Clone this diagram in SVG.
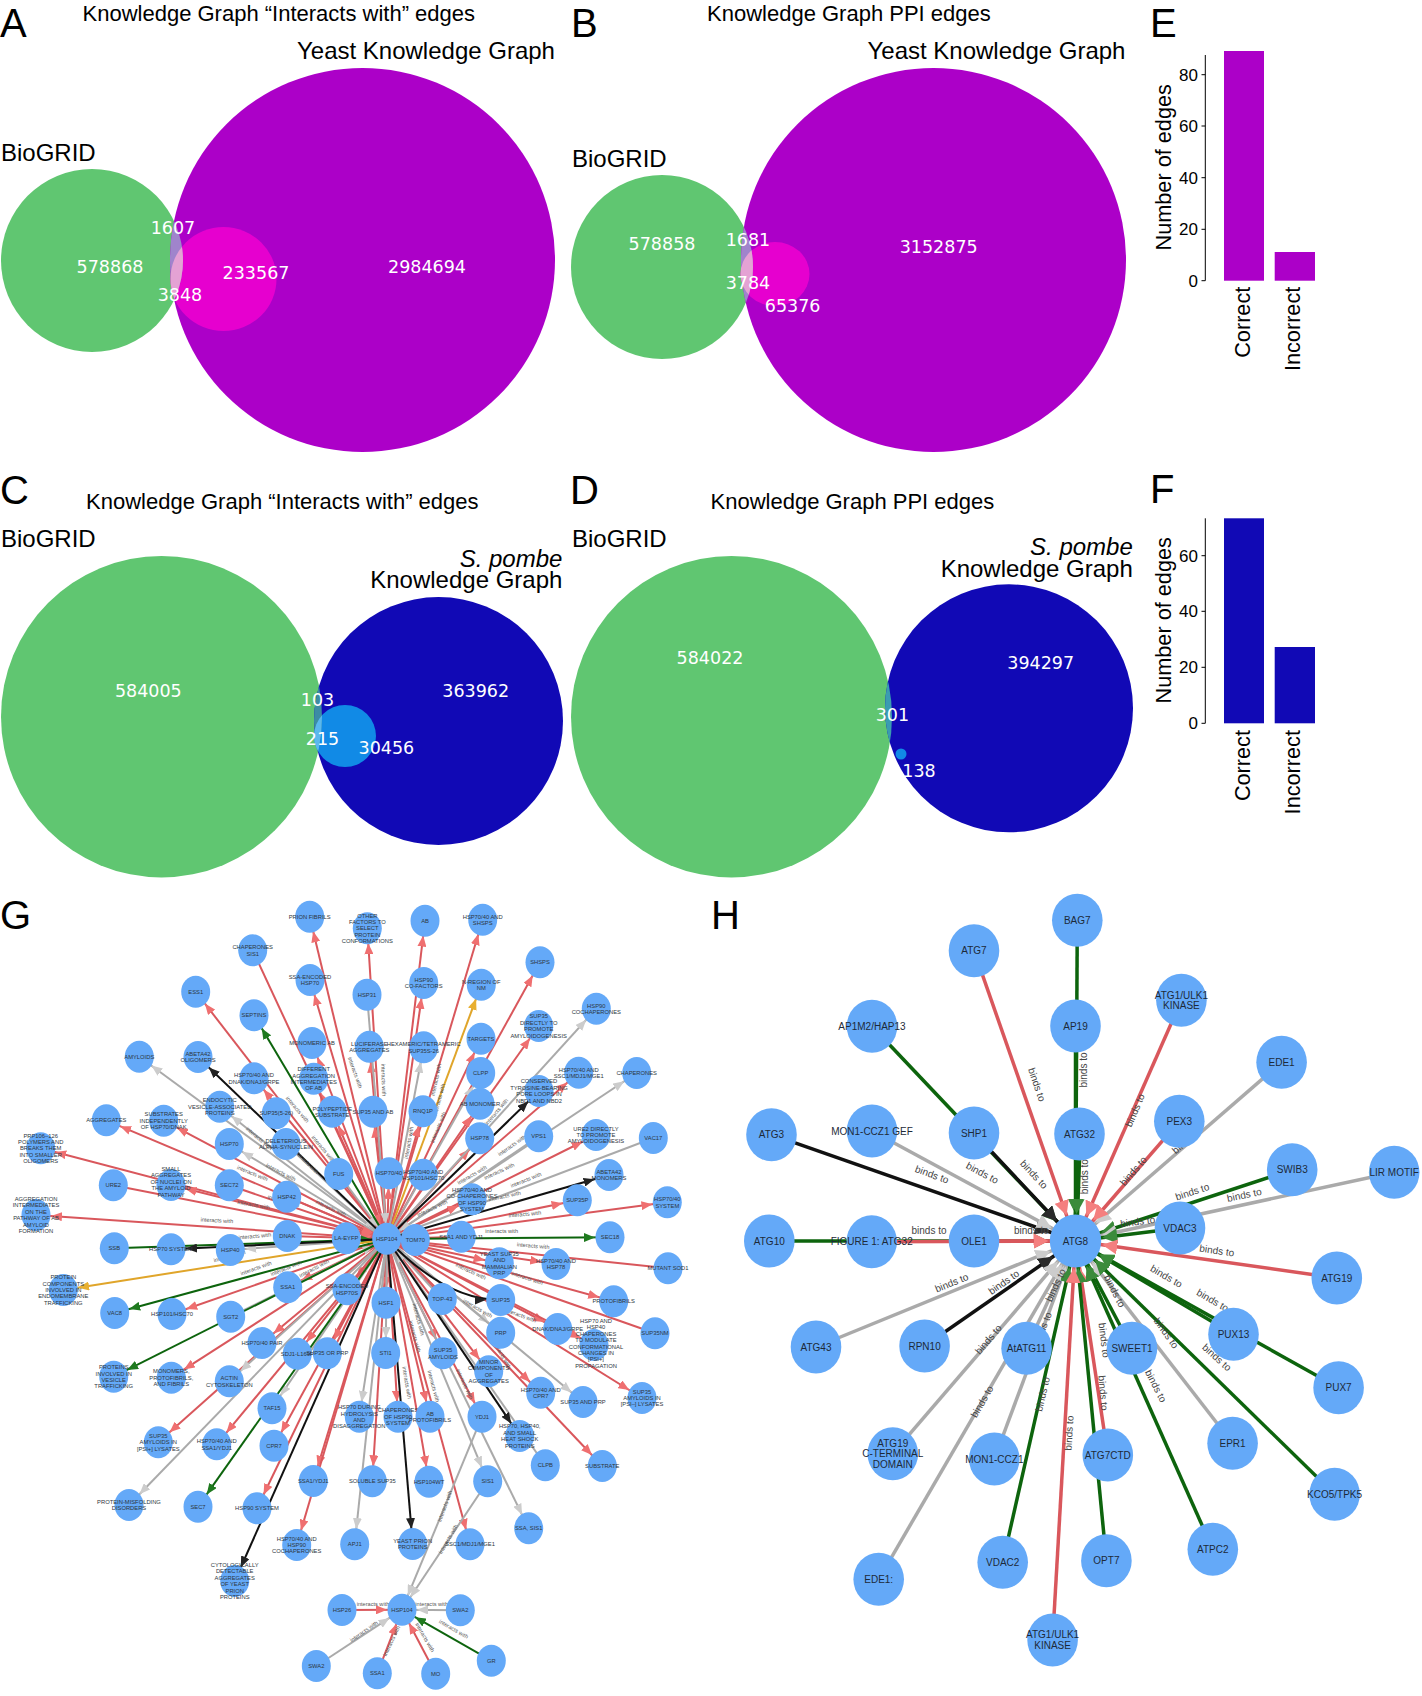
<svg xmlns="http://www.w3.org/2000/svg" width="1422" height="1696" viewBox="0 0 1422 1696">
<style>
text{font-family:"Liberation Sans",Arial,sans-serif}
.L{font-size:40px;fill:#000}
.T{font-size:22px;fill:#000}
.S{font-size:24px;fill:#000}
.N{font-family:"DejaVu Sans",sans-serif;font-size:17.5px;fill:#fff;text-anchor:middle}
.X{font-size:21.7px;fill:#000}
.Y{font-size:17px;fill:#000;text-anchor:end}
.ax{stroke:#000;stroke-width:1;fill:none}
.gn{fill:#64a9f8}
.gt{font-size:5.8px;fill:#2d3640;text-anchor:middle}
.ht{font-size:10px;fill:#1d2a38;text-anchor:middle}
.e{font-size:5.6px;fill:#555;text-anchor:middle}
.b{font-size:10px;fill:#444;text-anchor:middle}
#gedges path{fill:none;stroke-width:2}
#hedges path{fill:none;stroke-width:3.5}
.r{stroke:#d9575c;marker-end:url(#mr)}
.g{stroke:#0d640d;marker-end:url(#mg)}
.k{stroke:#111;marker-end:url(#mk)}
.a{stroke:#aaa;marker-end:url(#ma)}
.y{stroke:#e0a52a;marker-end:url(#my)}
.hr{stroke:#d9575c;marker-end:url(#hr)}
.hg{stroke:#0d640d;marker-end:url(#hg)}
.hk{stroke:#111;marker-end:url(#hk)}
.ha{stroke:#aaa;marker-end:url(#ha)}
</style>
<defs>
<marker id="mr" markerUnits="userSpaceOnUse" markerWidth="11" markerHeight="9" refX="26" refY="4.5" orient="auto"><path d="M0 0L11 4.5L0 9z" fill="#ef6f70"/></marker>
<marker id="mg" markerUnits="userSpaceOnUse" markerWidth="11" markerHeight="9" refX="26" refY="4.5" orient="auto"><path d="M0 0L11 4.5L0 9z" fill="#1f7a1f"/></marker>
<marker id="mk" markerUnits="userSpaceOnUse" markerWidth="11" markerHeight="9" refX="26" refY="4.5" orient="auto"><path d="M0 0L11 4.5L0 9z" fill="#222"/></marker>
<marker id="ma" markerUnits="userSpaceOnUse" markerWidth="11" markerHeight="9" refX="26" refY="4.5" orient="auto"><path d="M0 0L11 4.5L0 9z" fill="#ccc"/></marker>
<marker id="my" markerUnits="userSpaceOnUse" markerWidth="11" markerHeight="9" refX="26" refY="4.5" orient="auto"><path d="M0 0L11 4.5L0 9z" fill="#e8af30"/></marker>
<marker id="hr" markerUnits="userSpaceOnUse" markerWidth="15" markerHeight="15" refX="42" refY="7.5" orient="auto"><path d="M0 0L15 7.5L0 15z" fill="#f47f7f"/></marker>
<marker id="hg" markerUnits="userSpaceOnUse" markerWidth="15" markerHeight="15" refX="42" refY="7.5" orient="auto"><path d="M0 0L15 7.5L0 15z" fill="#3b8b3b"/></marker>
<marker id="hk" markerUnits="userSpaceOnUse" markerWidth="15" markerHeight="15" refX="42" refY="7.5" orient="auto"><path d="M0 0L15 7.5L0 15z" fill="#2a2a2a"/></marker>
<marker id="ha" markerUnits="userSpaceOnUse" markerWidth="15" markerHeight="15" refX="42" refY="7.5" orient="auto"><path d="M0 0L15 7.5L0 15z" fill="#ccc"/></marker>
<clipPath id="cA"><ellipse cx="92" cy="260.5" rx="91" ry="91.5"/></clipPath>
<clipPath id="cB"><ellipse cx="662" cy="267" rx="91" ry="92"/></clipPath>
<clipPath id="cC"><ellipse cx="161.5" cy="716.7" rx="160.5" ry="160.7"/></clipPath>
<clipPath id="cD"><ellipse cx="731.5" cy="716.7" rx="160.5" ry="160.7"/></clipPath>
</defs>
<rect width="1422" height="1696" fill="#fff"/>

<g id="panel-A">
<text class="L" x="0" y="37">A</text>
<text class="T" x="82.5" y="21">Knowledge Graph “Interacts with” edges</text>
<text class="S" x="297" y="59">Yeast Knowledge Graph</text>
<text class="S" x="1" y="160.7">BioGRID</text>
<ellipse cx="92" cy="260.5" rx="91" ry="91.5" fill="#60c671"/>
<ellipse cx="362.5" cy="260" rx="192.5" ry="192" fill="#ac00c8"/>
<ellipse cx="223.5" cy="279" rx="53" ry="52" fill="#e600cf"/>
<ellipse cx="362.5" cy="260" rx="192.5" ry="192" fill="#a084cc" clip-path="url(#cA)"/>
<ellipse cx="223.5" cy="279" rx="53" ry="52" fill="#e4a2d4" clip-path="url(#cA)"/>
<text class="N" x="110" y="272.7">578868</text>
<text class="N" x="173" y="234">1607</text>
<text class="N" x="180" y="300.7">3848</text>
<text class="N" x="256" y="279.3">233567</text>
<text class="N" x="427" y="273.3">2984694</text>
</g>

<g id="panel-B">
<text class="L" x="571" y="37">B</text>
<text class="T" x="707" y="21">Knowledge Graph PPI edges</text>
<text class="S" x="867.5" y="59">Yeast Knowledge Graph</text>
<text class="S" x="572" y="166.7">BioGRID</text>
<ellipse cx="662" cy="267" rx="91" ry="92" fill="#60c671"/>
<ellipse cx="933.5" cy="260" rx="192.5" ry="192" fill="#ac00c8"/>
<ellipse cx="775" cy="274" rx="34.5" ry="32" fill="#e600cf"/>
<ellipse cx="933.5" cy="260" rx="192.5" ry="192" fill="#a084cc" clip-path="url(#cB)"/>
<ellipse cx="775" cy="274" rx="34.5" ry="32" fill="#e4a2d4" clip-path="url(#cB)"/>
<text class="N" x="662" y="250">578858</text>
<text class="N" x="748" y="246">1681</text>
<text class="N" x="748" y="289.3">3784</text>
<text class="N" x="792.6" y="311.7">65376</text>
<text class="N" x="938.7" y="253.3">3152875</text>
</g>

<g id="panel-C">
<text class="L" x="0" y="504">C</text>
<text class="T" x="86" y="509.3">Knowledge Graph “Interacts with” edges</text>
<text class="S" x="1" y="547.3">BioGRID</text>
<text class="S" x="562.4" y="566.7" text-anchor="end" font-style="italic">S. pombe</text>
<text class="S" x="562.4" y="588.3" text-anchor="end">Knowledge Graph</text>
<ellipse cx="161.5" cy="716.7" rx="160.5" ry="160.7" fill="#60c671"/>
<ellipse cx="438.5" cy="721" rx="124.5" ry="124" fill="#1109b5"/>
<ellipse cx="345" cy="736" rx="31" ry="31" fill="#118ae6"/>
<ellipse cx="438.5" cy="721" rx="124.5" ry="124" fill="#3c8ca4" clip-path="url(#cC)"/>
<ellipse cx="345" cy="736" rx="31" ry="31" fill="#5ab8ee" clip-path="url(#cC)"/>
<text class="N" x="148.3" y="696.7">584005</text>
<text class="N" x="317.5" y="706">103</text>
<text class="N" x="322.5" y="745">215</text>
<text class="N" x="386.4" y="754.3">30456</text>
<text class="N" x="475.7" y="696.7">363962</text>
</g>

<g id="panel-D">
<text class="L" x="570" y="504">D</text>
<text class="T" x="710.5" y="509.3">Knowledge Graph PPI edges</text>
<text class="S" x="572" y="547.3">BioGRID</text>
<text class="S" x="1132.8" y="555" text-anchor="end" font-style="italic">S. pombe</text>
<text class="S" x="1132.8" y="576.7" text-anchor="end">Knowledge Graph</text>
<ellipse cx="731.5" cy="716.7" rx="160.5" ry="160.7" fill="#60c671"/>
<ellipse cx="1009" cy="708.3" rx="124" ry="124" fill="#1109b5"/>
<ellipse cx="1009" cy="708.3" rx="124" ry="124" fill="#3a9cb0" clip-path="url(#cD)"/>
<ellipse cx="901" cy="754" rx="5.5" ry="5.5" fill="#118ae6"/>
<text class="N" x="710" y="664">584022</text>
<text class="N" x="1040.7" y="669.3">394297</text>
<text class="N" x="892.4" y="721">301</text>
<text class="N" x="919" y="776.7">138</text>
</g>

<g id="panel-E">
<text class="L" x="1150" y="37">E</text>
<path class="ax" d="M1205.3 55V280.7M1201.5 74.7H1205.3M1201.5 126H1205.3M1201.5 177.7H1205.3M1201.5 229.3H1205.3M1201.5 280.7H1205.3"/>
<text class="Y" x="1198" y="80.7">80</text>
<text class="Y" x="1198" y="132">60</text>
<text class="Y" x="1198" y="183.7">40</text>
<text class="Y" x="1198" y="235.3">20</text>
<text class="Y" x="1198" y="286.7">0</text>
<rect x="1224" y="51" width="40" height="229.7" fill="#ac00c8"/>
<rect x="1274.7" y="252" width="40.3" height="28.7" fill="#ac00c8"/>
<text class="X" text-anchor="middle" transform="translate(1171 167.3) rotate(-90)">Number of edges</text>
<text class="X" text-anchor="end" transform="translate(1249.6 286.7) rotate(-90)">Correct</text>
<text class="X" text-anchor="end" transform="translate(1300.4 286.7) rotate(-90)">Incorrect</text>
</g>

<g id="panel-F">
<text class="L" x="1150" y="503.3">F</text>
<path class="ax" d="M1205.3 518.3V723.3M1201.5 555.7H1205.3M1201.5 611.3H1205.3M1201.5 667.3H1205.3M1201.5 723.3H1205.3"/>
<text class="Y" x="1198" y="561.7">60</text>
<text class="Y" x="1198" y="617.3">40</text>
<text class="Y" x="1198" y="673.3">20</text>
<text class="Y" x="1198" y="729.3">0</text>
<rect x="1224" y="518.3" width="40" height="205" fill="#1109b5"/>
<rect x="1274.7" y="647" width="40.3" height="76.3" fill="#1109b5"/>
<text class="X" text-anchor="middle" transform="translate(1171 620.3) rotate(-90)">Number of edges</text>
<text class="X" text-anchor="end" transform="translate(1249.6 730) rotate(-90)">Correct</text>
<text class="X" text-anchor="end" transform="translate(1300.4 730) rotate(-90)">Incorrect</text>
</g>

<text class="L" x="0" y="929">G</text>
<text class="L" x="711" y="929">H</text>

<g id="gedges">
<path class="r" d="M387 1239L309.7 916.7"/><path class="r" d="M387 1239L367.3 928.3"/><path class="r" d="M387 1239L310 980"/><path class="r" d="M387 1239L195.7 991.7"/><path class="r" d="M387 1239L312 1043"/><path class="r" d="M387 1239L369.3 1046.7"/><path class="r" d="M387 1239L254 1078"/><path class="r" d="M387 1239L313.7 1078.7"/><path class="r" d="M387 1239L332.3 1111.7"/><path class="r" d="M387 1239L373 1111.7"/><path class="r" d="M387 1239L106.3 1120.3"/><path class="r" d="M387 1239L163.7 1120.7"/><path class="r" d="M387 1239L40.7 1148.3"/><path class="r" d="M387 1239L171 1185"/><path class="r" d="M387 1239L36 1215"/><path class="r" d="M387 1239L423.7 983"/><path class="r" d="M387 1239L425 920.7"/><path class="r" d="M387 1239L482.7 919.7"/><path class="r" d="M387 1239L540 962.3"/><path class="r" d="M387 1239L538.7 1026"/><path class="r" d="M387 1239L481 1038.7"/><path class="r" d="M387 1239L480 1103.7"/><path class="r" d="M387 1239L479.7 1138.3"/><path class="r" d="M387 1239L578.7 1072.7"/><path class="r" d="M387 1239L596 1135"/><path class="r" d="M387 1239L667.3 1202.3"/><path class="r" d="M387 1239L577.3 1200.3"/><path class="r" d="M387 1239L472 1199.3"/><path class="r" d="M387 1239L389 1173"/><path class="r" d="M387 1239L423 1111.3"/><path class="r" d="M387 1239L556 1264"/><path class="r" d="M387 1239L499.3 1263.3"/><path class="r" d="M387 1239L613.7 1301.3"/><path class="r" d="M387 1239L557.7 1329"/><path class="r" d="M387 1239L594 1345"/><path class="r" d="M387 1239L642 1398"/><path class="r" d="M387 1239L540.7 1392.7"/><path class="r" d="M387 1239L602.3 1466"/><path class="r" d="M387 1239L488.7 1371.3"/><path class="r" d="M387 1239L482 1416.7"/><path class="r" d="M387 1239L443 1353.3"/><path class="r" d="M387 1239L430 1416.7"/><path class="r" d="M387 1239L470 1544.3"/><path class="r" d="M387 1239L429 1481.7"/><path class="r" d="M387 1239L398 1416.7"/><path class="r" d="M387 1239L372.3 1481.3"/><path class="r" d="M387 1239L313.3 1481"/><path class="r" d="M387 1239L296.7 1545"/><path class="r" d="M387 1239L257 1508.3"/><path class="r" d="M387 1239L274 1445.7"/><path class="r" d="M387 1239L327 1353"/><path class="r" d="M387 1239L347 1289"/><path class="r" d="M387 1239L262 1343"/><path class="r" d="M387 1239L216.7 1444.3"/><path class="r" d="M387 1239L158.3 1442.3"/><path class="r" d="M387 1239L171.3 1377.7"/><path class="r" d="M387 1239L172 1314"/><path class="r" d="M387 1239L287.7 1287"/><path class="r" d="M387 1239L386 1302.7"/><path class="r" d="M387 1239L297.3 1353.7"/>
<path class="r" d="M252.7 950.3L387 1239"/><path class="r" d="M113.3 1185.3L387 1239"/><path class="r" d="M229.3 1185.3L387 1239"/><path class="r" d="M286.7 1196.7L387 1239"/><path class="r" d="M287.3 1236L387 1239"/><path class="r" d="M655 1333.3L387 1239"/><path class="r" d="M668 1268.3L387 1239"/><path class="r" d="M461.3 1236.7L387 1239"/><path class="r" d="M346.3 1238.3L387 1239"/><path class="r" d="M415.3 1240L387 1239"/>
<path class="a" d="M387 1239L139.3 1056.7"/><path class="a" d="M387 1239L219.7 1106.7"/><path class="a" d="M387 1239L229.3 1144"/><path class="a" d="M387 1239L230.3 1250"/><path class="a" d="M387 1239L129 1505"/><path class="a" d="M387 1239L272 1408"/><path class="a" d="M387 1239L229.3 1381"/><path class="a" d="M387 1239L354.7 1544"/><path class="a" d="M387 1239L359.3 1416.7"/><path class="a" d="M387 1239L385.7 1353"/><path class="a" d="M387 1239L423.7 1047"/><path class="a" d="M387 1239L480.7 1073"/><path class="a" d="M387 1239L596.3 1008.7"/><path class="a" d="M387 1239L636.7 1073"/><path class="a" d="M387 1239L500.7 1332.7"/><path class="a" d="M387 1239L583 1402"/><path class="a" d="M387 1239L487.7 1481.3"/><path class="a" d="M387 1239L528.7 1528.3"/>
<path class="a" d="M653.3 1138L387 1239"/><path class="a" d="M538.7 1136.3L387 1239"/><path class="a" d="M230.7 1316.7L387 1239"/><path class="a" d="M545.3 1465.3L387 1239"/><path class="a" d="M367 994.7L387 1239"/><path class="a" d="M338.7 1174L387 1239"/><path class="a" d="M442 1299L387 1239"/><path class="a" d="M286 1144L387 1239"/>
<path class="g" d="M387 1239L254 1015.3"/><path class="g" d="M387 1239L610 1237.3"/><path class="g" d="M387 1239L114.7 1313"/><path class="g" d="M387 1239L113.7 1376.7"/><path class="g" d="M387 1239L198 1506.7"/><path class="g" d="M114.3 1248.3L387 1239"/>
<path class="y" d="M387 1239L481.3 984.7"/><path class="y" d="M387 1239L63.3 1290"/>
<path class="k" d="M387 1239L198 1057"/><path class="k" d="M387 1239L171 1249.3"/><path class="k" d="M387 1239L539 1091"/><path class="k" d="M387 1239L609 1175"/><path class="k" d="M387 1239L234.7 1581"/><path class="k" d="M387 1239L412.7 1544"/><path class="k" d="M387 1239L519.7 1436"/><path class="k" d="M387 1239Q445 1300 500.7 1300"/>
<path class="a" d="M482 1416.7L402 1609.7"/><path class="a" d="M487.7 1481.3L402 1609.7"/><path class="r" d="M342 1610L402 1609.7"/><path class="a" d="M460.3 1610.3L402 1609.7"/><path class="g" d="M491.3 1660.7L402 1609.7"/><path class="r" d="M435.7 1673.7L402 1609.7"/><path class="r" d="M377.3 1673.3L402 1609.7"/><path class="a" d="M316.3 1666L402 1609.7"/>
</g>
<g id="glabels">
<text class="e" transform="translate(353.3 1073.3) rotate(70)">interacts with</text>
<text class="e" transform="translate(381.7 1080) rotate(88)">interacts with</text>
<text class="e" transform="translate(296 1110.7) rotate(50)">interacts with</text>
<text class="e" transform="translate(216.7 1222.3) rotate(3)">interacts with</text>
<text class="e" transform="translate(251.7 1175) rotate(22)">interacts with</text>
<text class="e" transform="translate(280 1174) rotate(27)">interacts with</text>
<text class="e" transform="translate(253.3 1206.7) rotate(10)">interacts with</text>
<text class="e" transform="translate(283 1203) rotate(15)">interacts with</text>
<text class="e" transform="translate(255 1238) rotate(-5)">interacts with</text>
<text class="e" transform="translate(230 1258) rotate(-15)">interacts with</text>
<text class="e" transform="translate(256.7 1270) rotate(-20)">interacts with</text>
<text class="e" transform="translate(286.7 1270) rotate(-22)">interacts with</text>
<text class="e" transform="translate(315 1270) rotate(-28)">interacts with</text>
<text class="e" transform="translate(330 1210) rotate(25)">interacts with</text>
<text class="e" transform="translate(258 1140) rotate(40)">interacts with</text>
<text class="e" transform="translate(321.7 1150) rotate(50)">interacts with</text>
<text class="e" transform="translate(305 1163) rotate(45)">interacts with</text>
<text class="e" transform="translate(438 1080) rotate(-78)">interacts with</text>
<text class="e" transform="translate(441 1100) rotate(-75)">interacts with</text>
<text class="e" transform="translate(440 1128) rotate(-68)">interacts with</text>
<text class="e" transform="translate(410.7 1143) rotate(-80)">interacts with</text>
<text class="e" transform="translate(498 1113) rotate(-50)">interacts with</text>
<text class="e" transform="translate(513 1147) rotate(-35)">interacts with</text>
<text class="e" transform="translate(500 1173) rotate(-25)">interacts with</text>
<text class="e" transform="translate(526.7 1181.7) rotate(-22)">interacts with</text>
<text class="e" transform="translate(505 1198) rotate(-12)">interacts with</text>
<text class="e" transform="translate(525 1216) rotate(-5)">interacts with</text>
<text class="e" transform="translate(501.7 1232.7) rotate(0)">interacts with</text>
<text class="e" transform="translate(533 1247.7) rotate(5)">interacts with</text>
<text class="e" transform="translate(526.7 1280) rotate(18)">interacts with</text>
<text class="e" transform="translate(470 1273) rotate(25)">interacts with</text>
<text class="e" transform="translate(473 1176.7) rotate(-30)">interacts with</text>
<text class="e" transform="translate(433 1210) rotate(-25)">interacts with</text>
<text class="e" transform="translate(520 1317) rotate(20)">interacts with</text>
<text class="e" transform="translate(476.7 1310) rotate(30)">interacts with</text>
<text class="e" transform="translate(416.7 1320) rotate(75)">interacts with</text>
<text class="e" transform="translate(413 1337) rotate(75)">interacts with</text>
<text class="e" transform="translate(405 1383) rotate(80)">interacts with</text>
<text class="e" transform="translate(431.7 1386.7) rotate(75)">interacts with</text>
<text class="e" transform="translate(463 1385) rotate(65)">interacts with</text>
<text class="e" transform="translate(446.7 1506.7) rotate(-70)">interacts with</text>
<text class="e" transform="translate(450 1540) rotate(-60)">interacts with</text>
<text class="e" transform="translate(500 1355) rotate(60)">interacts with</text>
<text class="e" transform="translate(431.7 1606)">interacts with</text>
<text class="e" transform="translate(373 1606)">interacts with</text>
<text class="e" transform="translate(365 1633) rotate(-35)">interacts with</text>
<text class="e" transform="translate(452.7 1630.7) rotate(30)">interacts with</text>
<text class="e" transform="translate(423.3 1638.3) rotate(60)">interacts with</text>
<text class="e" transform="translate(393.3 1641.7) rotate(-65)">interacts with</text>
</g>

<g id="gnodes">
<g id="g1"><ellipse class="gn" cx="309.7" cy="916.7" rx="14.5" ry="16"/><text class="gt" x="309.7" y="918.7">PRION FIBRILS</text></g>
<g id="g2"><ellipse class="gn" cx="367.3" cy="928.3" rx="14.5" ry="16"/><text class="gt" x="367.3" y="917.5">OTHER<tspan x="367.3" dy="6.4">FACTORS TO</tspan><tspan x="367.3" dy="6.4">SELECT</tspan><tspan x="367.3" dy="6.4">PROTEIN</tspan><tspan x="367.3" dy="6.4">CONFORMATIONS</tspan></text></g>
<g id="g3"><ellipse class="gn" cx="252.7" cy="950.3" rx="14.5" ry="16"/><text class="gt" x="252.7" y="949.1">CHAPERONES<tspan x="252.7" dy="6.4">SIS1</tspan></text></g>
<g id="g4"><ellipse class="gn" cx="310" cy="980" rx="14.5" ry="16"/><text class="gt" x="310" y="978.8">SSA-ENCODED<tspan x="310" dy="6.4">HSP70</tspan></text></g>
<g id="g5"><ellipse class="gn" cx="367" cy="994.7" rx="14.5" ry="16"/><text class="gt" x="367" y="996.7">HSP31</text></g>
<g id="g6"><ellipse class="gn" cx="195.7" cy="991.7" rx="14.5" ry="16"/><text class="gt" x="195.7" y="993.7">ESS1</text></g>
<g id="g7"><ellipse class="gn" cx="254" cy="1015.3" rx="14.5" ry="16"/><text class="gt" x="254" y="1017.3">SEPTINS</text></g>
<g id="g8"><ellipse class="gn" cx="312" cy="1043" rx="14.5" ry="16"/><text class="gt" x="312" y="1045">MONOMERIC AB</text></g>
<g id="g9"><ellipse class="gn" cx="369.3" cy="1046.7" rx="14.5" ry="16"/><text class="gt" x="369.3" y="1045.5">LUCIFERASE<tspan x="369.3" dy="6.4">AGGREGATES</tspan></text></g>
<g id="g10"><ellipse class="gn" cx="139.3" cy="1056.7" rx="14.5" ry="16"/><text class="gt" x="139.3" y="1058.7">AMYLOIDS</text></g>
<g id="g11"><ellipse class="gn" cx="198" cy="1057" rx="14.5" ry="16"/><text class="gt" x="198" y="1055.8">ABETA42<tspan x="198" dy="6.4">OLIGOMERS</tspan></text></g>
<g id="g12"><ellipse class="gn" cx="254" cy="1078.3" rx="14.5" ry="16"/><text class="gt" x="254" y="1077.1">HSP70/40 AND<tspan x="254" dy="6.4">DNAK/DNAJ/GRPE</tspan></text></g>
<g id="g13"><ellipse class="gn" cx="313.7" cy="1078.7" rx="14.5" ry="16"/><text class="gt" x="313.7" y="1071.1">DIFFERENT<tspan x="313.7" dy="6.4">AGGREGATION</tspan><tspan x="313.7" dy="6.4">INTERMEDIATES</tspan><tspan x="313.7" dy="6.4">OF AB</tspan></text></g>
<g id="g14"><ellipse class="gn" cx="219.7" cy="1106.7" rx="14.5" ry="16"/><text class="gt" x="219.7" y="1102.3">ENDOCYTIC<tspan x="219.7" dy="6.4">VESICLE-ASSOCIATED</tspan><tspan x="219.7" dy="6.4">PROTEINS</tspan></text></g>
<g id="g15"><ellipse class="gn" cx="276.3" cy="1113.3" rx="14.5" ry="16"/><text class="gt" x="276.3" y="1115.3">SUP35(5-26)</text></g>
<g id="g16"><ellipse class="gn" cx="332.3" cy="1111.7" rx="14.5" ry="16"/><text class="gt" x="332.3" y="1110.5">POLYPEPTIDE<tspan x="332.3" dy="6.4">SUBSTRATE</tspan></text></g>
<g id="g17"><ellipse class="gn" cx="373" cy="1111.7" rx="14.5" ry="16"/><text class="gt" x="373" y="1113.7">SUP35 AND AB</text></g>
<g id="g18"><ellipse class="gn" cx="106.3" cy="1120.3" rx="14.5" ry="16"/><text class="gt" x="106.3" y="1122.3">AGGREGATES</text></g>
<g id="g19"><ellipse class="gn" cx="163.7" cy="1120.7" rx="14.5" ry="16"/><text class="gt" x="163.7" y="1116.3">SUBSTRATES<tspan x="163.7" dy="6.4">INDEPENDENTLY</tspan><tspan x="163.7" dy="6.4">OF HSP70/DNAK</tspan></text></g>
<g id="g20"><ellipse class="gn" cx="229.3" cy="1144" rx="14.5" ry="16"/><text class="gt" x="229.3" y="1146">HSP70</text></g>
<g id="g21"><ellipse class="gn" cx="286" cy="1144" rx="14.5" ry="16"/><text class="gt" x="286" y="1142.8">DELETERIOUS<tspan x="286" dy="6.4">ALPHA-SYNUCLEIN</tspan></text></g>
<g id="g22"><ellipse class="gn" cx="40.7" cy="1148.3" rx="14.5" ry="16"/><text class="gt" x="40.7" y="1137.5">PRP106–126<tspan x="40.7" dy="6.4">POLYMERS AND</tspan><tspan x="40.7" dy="6.4">BREAKS THEM</tspan><tspan x="40.7" dy="6.4">INTO SMALLER</tspan><tspan x="40.7" dy="6.4">OLIGOMERS</tspan></text></g>
<g id="g23"><ellipse class="gn" cx="338.7" cy="1174" rx="14.5" ry="16"/><text class="gt" x="338.7" y="1176">FUS</text></g>
<g id="g24"><ellipse class="gn" cx="389" cy="1173.3" rx="14.5" ry="16"/><text class="gt" x="389" y="1175.3">HSP70/40</text></g>
<g id="g25"><ellipse class="gn" cx="113.3" cy="1185.3" rx="14.5" ry="16"/><text class="gt" x="113.3" y="1187.3">URE2</text></g>
<g id="g26"><ellipse class="gn" cx="229.3" cy="1185.3" rx="14.5" ry="16"/><text class="gt" x="229.3" y="1187.3">SEC72</text></g>
<g id="g27"><ellipse class="gn" cx="171" cy="1185" rx="14.5" ry="16"/><text class="gt" x="171" y="1171">SMALL<tspan x="171" dy="6.4">AGGREGATES</tspan><tspan x="171" dy="6.4">OF NUCLEI ON</tspan><tspan x="171" dy="6.4">THE AMYLOID</tspan><tspan x="171" dy="6.4">PATHWAY</tspan></text></g>
<g id="g28"><ellipse class="gn" cx="286.7" cy="1196.7" rx="14.5" ry="16"/><text class="gt" x="286.7" y="1198.7">HSP42</text></g>
<g id="g29"><ellipse class="gn" cx="36" cy="1215" rx="14.5" ry="16"/><text class="gt" x="36" y="1201">AGGREGATION<tspan x="36" dy="6.4">INTERMEDIATES</tspan><tspan x="36" dy="6.4">ON THE</tspan><tspan x="36" dy="6.4">PATHWAY OF AB</tspan><tspan x="36" dy="6.4">AMYLOID</tspan><tspan x="36" dy="6.4">FORMATION</tspan></text></g>
<g id="g30"><ellipse class="gn" cx="287.3" cy="1236" rx="14.5" ry="16"/><text class="gt" x="287.3" y="1238">DNAK</text></g>
<g id="g31"><ellipse class="gn" cx="346.3" cy="1238.3" rx="14.5" ry="16"/><text class="gt" x="346.3" y="1240.3">LA-EYFP</text></g>
<g id="g32"><ellipse class="gn" cx="386.7" cy="1238.7" rx="14.5" ry="16"/><text class="gt" x="386.7" y="1240.7">HSP104</text></g>
<g id="g33"><ellipse class="gn" cx="114.3" cy="1248.3" rx="14.5" ry="16"/><text class="gt" x="114.3" y="1250.3">SSB</text></g>
<g id="g34"><ellipse class="gn" cx="171" cy="1249.3" rx="14.5" ry="16"/><text class="gt" x="171" y="1251.3">HSP70 SYSTEM</text></g>
<g id="g35"><ellipse class="gn" cx="230.3" cy="1250" rx="14.5" ry="16"/><text class="gt" x="230.3" y="1252">HSP40</text></g>
<g id="g36"><ellipse class="gn" cx="287.7" cy="1287.3" rx="14.5" ry="16"/><text class="gt" x="287.7" y="1289.3">SSA1</text></g>
<g id="g37"><ellipse class="gn" cx="347" cy="1289.3" rx="14.5" ry="16"/><text class="gt" x="347" y="1288.1">SSA-ENCODED<tspan x="347" dy="6.4">HSP70S</tspan></text></g>
<g id="g38"><ellipse class="gn" cx="63.3" cy="1290" rx="14.5" ry="16"/><text class="gt" x="63.3" y="1279.2">PROTEIN<tspan x="63.3" dy="6.4">COMPONENTS</tspan><tspan x="63.3" dy="6.4">INVOLVED IN</tspan><tspan x="63.3" dy="6.4">ENDOMEMBRANE</tspan><tspan x="63.3" dy="6.4">TRAFFICKING</tspan></text></g>
<g id="g39"><ellipse class="gn" cx="114.7" cy="1313" rx="14.5" ry="16"/><text class="gt" x="114.7" y="1315">VAC8</text></g>
<g id="g40"><ellipse class="gn" cx="172" cy="1314" rx="14.5" ry="16"/><text class="gt" x="172" y="1316">HSP101/HSC70</text></g>
<g id="g41"><ellipse class="gn" cx="230.7" cy="1316.7" rx="14.5" ry="16"/><text class="gt" x="230.7" y="1318.7">SGT2</text></g>
<g id="g42"><ellipse class="gn" cx="386" cy="1302.7" rx="14.5" ry="16"/><text class="gt" x="386" y="1304.7">HSF1</text></g>
<g id="g43"><ellipse class="gn" cx="262" cy="1343" rx="14.5" ry="16"/><text class="gt" x="262" y="1345">HSP70/40 PAIR</text></g>
<g id="g44"><ellipse class="gn" cx="297.3" cy="1353.7" rx="14.5" ry="16"/><text class="gt" x="297.3" y="1355.7">SDJ1-L169P</text></g>
<g id="g45"><ellipse class="gn" cx="327.3" cy="1353.3" rx="14.5" ry="16"/><text class="gt" x="327.3" y="1355.3">SUP35 OR PRP</text></g>
<g id="g46"><ellipse class="gn" cx="385.7" cy="1353" rx="14.5" ry="16"/><text class="gt" x="385.7" y="1355">STI1</text></g>
<g id="g47"><ellipse class="gn" cx="113.7" cy="1376.7" rx="14.5" ry="16"/><text class="gt" x="113.7" y="1369.1">PROTEINS<tspan x="113.7" dy="6.4">INVOLVED IN</tspan><tspan x="113.7" dy="6.4">VESICLE</tspan><tspan x="113.7" dy="6.4">TRAFFICKING</tspan></text></g>
<g id="g48"><ellipse class="gn" cx="171.3" cy="1377.7" rx="14.5" ry="16"/><text class="gt" x="171.3" y="1373.3">MONOMERS,<tspan x="171.3" dy="6.4">PROTOFIBRILS,</tspan><tspan x="171.3" dy="6.4">AND FIBRILS</tspan></text></g>
<g id="g49"><ellipse class="gn" cx="229.3" cy="1381.3" rx="14.5" ry="16"/><text class="gt" x="229.3" y="1380.1">ACTIN<tspan x="229.3" dy="6.4">CYTOSKELETON</tspan></text></g>
<g id="g50"><ellipse class="gn" cx="272" cy="1408.3" rx="14.5" ry="16"/><text class="gt" x="272" y="1410.3">TAF15</text></g>
<g id="g51"><ellipse class="gn" cx="359.3" cy="1416.7" rx="14.5" ry="16"/><text class="gt" x="359.3" y="1409.1">HSP70 DURING<tspan x="359.3" dy="6.4">HYDROLYSIS</tspan><tspan x="359.3" dy="6.4">AND</tspan><tspan x="359.3" dy="6.4">DISAGGREGATION</tspan></text></g>
<g id="g52"><ellipse class="gn" cx="398" cy="1416.7" rx="14.5" ry="16"/><text class="gt" x="398" y="1412.3">CHAPERONES<tspan x="398" dy="6.4">OF HSP90</tspan><tspan x="398" dy="6.4">SYSTEM</tspan></text></g>
<g id="g53"><ellipse class="gn" cx="158.3" cy="1442.3" rx="14.5" ry="16"/><text class="gt" x="158.3" y="1437.9">SUP35<tspan x="158.3" dy="6.4">AMYLOIDS IN</tspan><tspan x="158.3" dy="6.4">[PSI+] LYSATES</tspan></text></g>
<g id="g54"><ellipse class="gn" cx="216.7" cy="1444.3" rx="14.5" ry="16"/><text class="gt" x="216.7" y="1443.1">HSP70/40 AND<tspan x="216.7" dy="6.4">SSA1/YDJ1</tspan></text></g>
<g id="g55"><ellipse class="gn" cx="274" cy="1445.7" rx="14.5" ry="16"/><text class="gt" x="274" y="1447.7">CPR7</text></g>
<g id="g56"><ellipse class="gn" cx="313.3" cy="1481" rx="14.5" ry="16"/><text class="gt" x="313.3" y="1483">SSA1/YDJ1</text></g>
<g id="g57"><ellipse class="gn" cx="372.3" cy="1481.3" rx="14.5" ry="16"/><text class="gt" x="372.3" y="1483.3">SOLUBLE SUP35</text></g>
<g id="g58"><ellipse class="gn" cx="129" cy="1505" rx="14.5" ry="16"/><text class="gt" x="129" y="1503.8">PROTEIN-MISFOLDING<tspan x="129" dy="6.4">DISORDERS</tspan></text></g>
<g id="g59"><ellipse class="gn" cx="198" cy="1506.7" rx="14.5" ry="16"/><text class="gt" x="198" y="1508.7">SEC7</text></g>
<g id="g60"><ellipse class="gn" cx="257" cy="1508.3" rx="14.5" ry="16"/><text class="gt" x="257" y="1510.3">HSP90 SYSTEM</text></g>
<g id="g61"><ellipse class="gn" cx="296.7" cy="1545" rx="14.5" ry="16"/><text class="gt" x="296.7" y="1540.6">HSP70/40 AND<tspan x="296.7" dy="6.4">HSP90</tspan><tspan x="296.7" dy="6.4">COCHAPERONES</tspan></text></g>
<g id="g62"><ellipse class="gn" cx="354.7" cy="1544.3" rx="14.5" ry="16"/><text class="gt" x="354.7" y="1546.3">APJ1</text></g>
<g id="g63"><ellipse class="gn" cx="234.7" cy="1581" rx="14.5" ry="16"/><text class="gt" x="234.7" y="1567">CYTOLOGICALLY<tspan x="234.7" dy="6.4">DETECTABLE</tspan><tspan x="234.7" dy="6.4">AGGREGATES</tspan><tspan x="234.7" dy="6.4">OF YEAST</tspan><tspan x="234.7" dy="6.4">PRION</tspan><tspan x="234.7" dy="6.4">PROTEINS</tspan></text></g>
<g id="g64"><ellipse class="gn" cx="342" cy="1610" rx="14.5" ry="16"/><text class="gt" x="342" y="1612">HSP26</text></g>
<g id="g65"><ellipse class="gn" cx="316.3" cy="1666" rx="14.5" ry="16"/><text class="gt" x="316.3" y="1668">SWA2</text></g>
<g id="g66"><ellipse class="gn" cx="377.3" cy="1673.3" rx="14.5" ry="16"/><text class="gt" x="377.3" y="1675.3">SSA1</text></g>
<g id="g67"><ellipse class="gn" cx="402" cy="1609.7" rx="14.5" ry="16"/><text class="gt" x="402" y="1611.7">HSP104</text></g>
<g id="g68"><ellipse class="gn" cx="460.3" cy="1610.3" rx="14.5" ry="16"/><text class="gt" x="460.3" y="1612.3">SWA2</text></g>
<g id="g69"><ellipse class="gn" cx="491.3" cy="1660.7" rx="14.5" ry="16"/><text class="gt" x="491.3" y="1662.7">GR</text></g>
<g id="g70"><ellipse class="gn" cx="435.7" cy="1673.7" rx="14.5" ry="16"/><text class="gt" x="435.7" y="1675.7">MO</text></g>
<g id="g71"><ellipse class="gn" cx="412.7" cy="1544" rx="14.5" ry="16"/><text class="gt" x="412.7" y="1542.8">YEAST PRION<tspan x="412.7" dy="6.4">PROTEINS</tspan></text></g>
<g id="g72"><ellipse class="gn" cx="470" cy="1544.3" rx="14.5" ry="16"/><text class="gt" x="470" y="1546.3">SSC1/MDJ1/MGE1</text></g>
<g id="g73"><ellipse class="gn" cx="487.7" cy="1481.3" rx="14.5" ry="16"/><text class="gt" x="487.7" y="1483.3">SIS1</text></g>
<g id="g74"><ellipse class="gn" cx="429" cy="1481.7" rx="14.5" ry="16"/><text class="gt" x="429" y="1483.7">HSP104WT</text></g>
<g id="g75"><ellipse class="gn" cx="528.7" cy="1528.3" rx="14.5" ry="16"/><text class="gt" x="528.7" y="1530.3">SSA, SIS1</text></g>
<g id="g76"><ellipse class="gn" cx="602.3" cy="1466" rx="14.5" ry="16"/><text class="gt" x="602.3" y="1468">SUBSTRATE</text></g>
<g id="g77"><ellipse class="gn" cx="545.3" cy="1465.3" rx="14.5" ry="16"/><text class="gt" x="545.3" y="1467.3">CLPB</text></g>
<g id="g78"><ellipse class="gn" cx="519.7" cy="1436" rx="14.5" ry="16"/><text class="gt" x="519.7" y="1428.4">HSP70, HSP40,<tspan x="519.7" dy="6.4">AND SMALL</tspan><tspan x="519.7" dy="6.4">HEAT SHOCK</tspan><tspan x="519.7" dy="6.4">PROTEINS</tspan></text></g>
<g id="g79"><ellipse class="gn" cx="482" cy="1416.7" rx="14.5" ry="16"/><text class="gt" x="482" y="1418.7">YDJ1</text></g>
<g id="g80"><ellipse class="gn" cx="430" cy="1416.7" rx="14.5" ry="16"/><text class="gt" x="430" y="1415.5">AB<tspan x="430" dy="6.4">PROTOFIBRILS</tspan></text></g>
<g id="g81"><ellipse class="gn" cx="540.7" cy="1392.7" rx="14.5" ry="16"/><text class="gt" x="540.7" y="1391.5">HSP70/40 AND<tspan x="540.7" dy="6.4">CPR7</tspan></text></g>
<g id="g82"><ellipse class="gn" cx="583" cy="1402" rx="14.5" ry="16"/><text class="gt" x="583" y="1404">SUP35 AND PRP</text></g>
<g id="g83"><ellipse class="gn" cx="642" cy="1398" rx="14.5" ry="16"/><text class="gt" x="642" y="1393.6">SUP35<tspan x="642" dy="6.4">AMYLOIDS IN</tspan><tspan x="642" dy="6.4">[PSI–] LYSATES</tspan></text></g>
<g id="g84"><ellipse class="gn" cx="488.7" cy="1371.3" rx="14.5" ry="16"/><text class="gt" x="488.7" y="1363.7">MINOR<tspan x="488.7" dy="6.4">COMPONENTS</tspan><tspan x="488.7" dy="6.4">OF</tspan><tspan x="488.7" dy="6.4">AGGREGATES</tspan></text></g>
<g id="g85"><ellipse class="gn" cx="443" cy="1353.3" rx="14.5" ry="16"/><text class="gt" x="443" y="1352.1">SUP35<tspan x="443" dy="6.4">AMYLOIDS</tspan></text></g>
<g id="g86"><ellipse class="gn" cx="500.7" cy="1332.7" rx="14.5" ry="16"/><text class="gt" x="500.7" y="1334.7">PRP</text></g>
<g id="g87"><ellipse class="gn" cx="594" cy="1345" rx="14.5" ry="16"/><text class="gt" x="596" y="1323">HSP70 AND<tspan x="596" dy="6.4">HSP40</tspan><tspan x="596" dy="6.4">CHAPERONES</tspan><tspan x="596" dy="6.4">TO MODULATE</tspan><tspan x="596" dy="6.4">CONFORMATIONAL</tspan><tspan x="596" dy="6.4">CHANGES IN</tspan><tspan x="596" dy="6.4">[PSI+]</tspan><tspan x="596" dy="6.4">PROPAGATION</tspan></text></g>
<g id="g88"><ellipse class="gn" cx="557.7" cy="1329" rx="14.5" ry="16"/><text class="gt" x="557.7" y="1331">DNAK/DNAJ/GRPE</text></g>
<g id="g89"><ellipse class="gn" cx="655" cy="1333.3" rx="14.5" ry="16"/><text class="gt" x="655" y="1335.3">SUP35NM</text></g>
<g id="g90"><ellipse class="gn" cx="613.7" cy="1301.3" rx="14.5" ry="16"/><text class="gt" x="613.7" y="1303.3">PROTOFIBRILS</text></g>
<g id="g91"><ellipse class="gn" cx="500.7" cy="1300" rx="14.5" ry="16"/><text class="gt" x="500.7" y="1302">SUP35</text></g>
<g id="g92"><ellipse class="gn" cx="442.3" cy="1299" rx="14.5" ry="16"/><text class="gt" x="442.3" y="1301">TOP-43</text></g>
<g id="g93"><ellipse class="gn" cx="425" cy="920.7" rx="14.5" ry="16"/><text class="gt" x="425" y="922.7">AB</text></g>
<g id="g94"><ellipse class="gn" cx="482.7" cy="919.7" rx="14.5" ry="16"/><text class="gt" x="482.7" y="918.5">HSP70/40 AND<tspan x="482.7" dy="6.4">SHSPS</tspan></text></g>
<g id="g95"><ellipse class="gn" cx="540" cy="962.3" rx="14.5" ry="16"/><text class="gt" x="540" y="964.3">SHSPS</text></g>
<g id="g96"><ellipse class="gn" cx="423.7" cy="983" rx="14.5" ry="16"/><text class="gt" x="423.7" y="981.8">HSP90<tspan x="423.7" dy="6.4">CO-FACTORS</tspan></text></g>
<g id="g97"><ellipse class="gn" cx="481.3" cy="984.7" rx="14.5" ry="16"/><text class="gt" x="481.3" y="983.5">N-REGION OF<tspan x="481.3" dy="6.4">NM</tspan></text></g>
<g id="g98"><ellipse class="gn" cx="596.3" cy="1008.7" rx="14.5" ry="16"/><text class="gt" x="596.3" y="1007.5">HSP90<tspan x="596.3" dy="6.4">COCHAPERONES</tspan></text></g>
<g id="g99"><ellipse class="gn" cx="538.7" cy="1026" rx="14.5" ry="16"/><text class="gt" x="538.7" y="1018.4">SUP35<tspan x="538.7" dy="6.4">DIRECTLY TO</tspan><tspan x="538.7" dy="6.4">PROMOTE</tspan><tspan x="538.7" dy="6.4">AMYLOIDOGENESIS</tspan></text></g>
<g id="g100"><ellipse class="gn" cx="481" cy="1038.7" rx="14.5" ry="16"/><text class="gt" x="481" y="1040.7">TARGETS</text></g>
<g id="g101"><ellipse class="gn" cx="423.7" cy="1047.3" rx="14.5" ry="16"/><text class="gt" x="423.7" y="1046.1">HEXAMERIC/TETRAMERIC<tspan x="423.7" dy="6.4">SUP35S-26</tspan></text></g>
<g id="g102"><ellipse class="gn" cx="480.7" cy="1073" rx="14.5" ry="16"/><text class="gt" x="480.7" y="1075">CLPP</text></g>
<g id="g103"><ellipse class="gn" cx="578.7" cy="1072.7" rx="14.5" ry="16"/><text class="gt" x="578.7" y="1071.5">HSP70/40 AND<tspan x="578.7" dy="6.4">SSC1/MDJ1/MGE1</tspan></text></g>
<g id="g104"><ellipse class="gn" cx="636.7" cy="1073" rx="14.5" ry="16"/><text class="gt" x="636.7" y="1075">CHAPERONES</text></g>
<g id="g105"><ellipse class="gn" cx="539" cy="1091" rx="14.5" ry="16"/><text class="gt" x="539" y="1083.4">CONSERVED<tspan x="539" dy="6.4">TYROSINE-BEARING</tspan><tspan x="539" dy="6.4">PORE LOOPS IN</tspan><tspan x="539" dy="6.4">NBD1 AND NBD2</tspan></text></g>
<g id="g106"><ellipse class="gn" cx="480" cy="1103.7" rx="14.5" ry="16"/><text class="gt" x="480" y="1105.7">AB MONOMER</text></g>
<g id="g107"><ellipse class="gn" cx="423" cy="1111.3" rx="14.5" ry="16"/><text class="gt" x="423" y="1113.3">RNQ1P</text></g>
<g id="g108"><ellipse class="gn" cx="538.7" cy="1136.3" rx="14.5" ry="16"/><text class="gt" x="538.7" y="1138.3">VPS1</text></g>
<g id="g109"><ellipse class="gn" cx="479.7" cy="1138.3" rx="14.5" ry="16"/><text class="gt" x="479.7" y="1140.3">HSP78</text></g>
<g id="g110"><ellipse class="gn" cx="596" cy="1135" rx="14.5" ry="16"/><text class="gt" x="596" y="1130.6">URE2 DIRECTLY<tspan x="596" dy="6.4">TO PROMOTE</tspan><tspan x="596" dy="6.4">AMYLOIDOGENESIS</tspan></text></g>
<g id="g111"><ellipse class="gn" cx="653.3" cy="1138" rx="14.5" ry="16"/><text class="gt" x="653.3" y="1140">VAC17</text></g>
<g id="g112"><ellipse class="gn" cx="423.3" cy="1174.7" rx="14.5" ry="16"/><text class="gt" x="423.3" y="1173.5">HSP70/40 AND<tspan x="423.3" dy="6.4">HSP101/HSC70</tspan></text></g>
<g id="g113"><ellipse class="gn" cx="609" cy="1175" rx="14.5" ry="16"/><text class="gt" x="609" y="1173.8">ABETA42<tspan x="609" dy="6.4">MONOMERS</tspan></text></g>
<g id="g114"><ellipse class="gn" cx="472" cy="1199.3" rx="14.5" ry="16"/><text class="gt" x="472" y="1191.7">HSP70/40 AND<tspan x="472" dy="6.4">CO-CHAPERONES</tspan><tspan x="472" dy="6.4">OF HSP90</tspan><tspan x="472" dy="6.4">SYSTEM</tspan></text></g>
<g id="g115"><ellipse class="gn" cx="577.3" cy="1200.3" rx="14.5" ry="16"/><text class="gt" x="577.3" y="1202.3">SUP35P</text></g>
<g id="g116"><ellipse class="gn" cx="667.3" cy="1202.3" rx="14.5" ry="16"/><text class="gt" x="667.3" y="1201.1">HSP70/40<tspan x="667.3" dy="6.4">SYSTEM</tspan></text></g>
<g id="g117"><ellipse class="gn" cx="415.3" cy="1240" rx="14.5" ry="16"/><text class="gt" x="415.3" y="1242">TOM70</text></g>
<g id="g118"><ellipse class="gn" cx="461.3" cy="1236.7" rx="14.5" ry="16"/><text class="gt" x="461.3" y="1238.7">SSA1 AND YDJ1</text></g>
<g id="g119"><ellipse class="gn" cx="610" cy="1237.3" rx="14.5" ry="16"/><text class="gt" x="610" y="1239.3">SEC18</text></g>
<g id="g120"><ellipse class="gn" cx="499.3" cy="1263.3" rx="14.5" ry="16"/><text class="gt" x="499.3" y="1255.7">YEAST SUP35<tspan x="499.3" dy="6.4">AND</tspan><tspan x="499.3" dy="6.4">MAMMALIAN</tspan><tspan x="499.3" dy="6.4">PRP</tspan></text></g>
<g id="g121"><ellipse class="gn" cx="556" cy="1264" rx="14.5" ry="16"/><text class="gt" x="556" y="1262.8">HSP70/40 AND<tspan x="556" dy="6.4">HSP78</tspan></text></g>
<g id="g122"><ellipse class="gn" cx="668" cy="1268.3" rx="14.5" ry="16"/><text class="gt" x="668" y="1270.3">MUTANT SOD1</text></g>
</g>

<g id="hedges">
<path class="hg" d="M1077.3 920.3L1075.5 1241"/><path class="hg" d="M1075.5 1026L1075.5 1241"/><path class="hg" d="M1079.5 1134L1075.5 1241" style="stroke-width:5.5"/><path class="hr" d="M974 950.7L1075.5 1241"/><path class="hg" d="M872 1026.3L1075.5 1241"/><path class="hr" d="M1181.4 1000.3L1075.5 1241"/><path class="ha" d="M1281.6 1062.3L1075.5 1241"/><path class="hk" d="M771.5 1134.7L1075.5 1241"/><path class="ha" d="M872 1131L1075.5 1241"/><path class="hk" d="M974 1133L1075.5 1241"/><path class="hr" d="M1179.3 1121.3L1075.5 1241"/><path class="hg" d="M1292.2 1169.7L1075.5 1241"/><path class="ha" d="M1394.2 1172.3L1075.5 1241"/><path class="hg" d="M1180 1228L1075.5 1241"/><path class="hg" d="M769.3 1241L1075.5 1241"/><path class="hr" d="M871.7 1241.7L1075.5 1241"/><path class="hr" d="M974 1241L1075.5 1241"/><path class="hr" d="M1336.8 1278L1075.5 1241"/><path class="hg" d="M1233.5 1334.3L1075.5 1241"/><path class="hg" d="M1338.6 1387.7L1075.5 1241"/><path class="ha" d="M816 1347L1075.5 1241"/><path class="hk" d="M924.6 1346L1075.5 1241"/><path class="ha" d="M1026.6 1348.3L1075.5 1241"/><path class="hg" d="M1132 1348.3L1075.5 1241"/><path class="ha" d="M892.8 1453.7L1075.5 1241"/><path class="ha" d="M994.3 1459L1075.5 1241"/><path class="hr" d="M1107.8 1455L1075.5 1241"/><path class="ha" d="M1232.6 1443.3L1075.5 1241"/><path class="hg" d="M1334.6 1494.3L1075.5 1241"/><path class="hg" d="M1002.7 1562.3L1075.5 1241"/><path class="hg" d="M1106.4 1560.7L1075.5 1241"/><path class="hg" d="M1212.8 1549.3L1075.5 1241"/><path class="ha" d="M878.7 1579.3L1075.5 1241"/><path class="hr" d="M1052.6 1640L1075.5 1241"/>
</g>
<g id="hlabels">
<text class="b" transform="translate(930.8 1177.7) rotate(20)">binds to</text>
<text class="b" transform="translate(980.7 1176) rotate(28)">binds to</text>
<text class="b" transform="translate(1031.4 1176.7) rotate(47)">binds to</text>
<text class="b" transform="translate(1033.6 1085.7) rotate(71)">binds to</text>
<text class="b" transform="translate(1087 1070) rotate(-90)">binds to</text>
<text class="b" transform="translate(1088 1176.7) rotate(-90)">binds to</text>
<text class="b" transform="translate(1138.2 1111.7) rotate(-67)">binds to</text>
<text class="b" transform="translate(1136 1173.3) rotate(-49)">binds to</text>
<text class="b" transform="translate(1189 1143) rotate(-41)">binds to</text>
<text class="b" transform="translate(1193.4 1195) rotate(-18)">binds to</text>
<text class="b" transform="translate(1245 1198.3) rotate(-12)">binds to</text>
<text class="b" transform="translate(1138.2 1225) rotate(-7)">binds to</text>
<text class="b" transform="translate(1216.3 1254) rotate(8)">binds to</text>
<text class="b" transform="translate(929 1234)">binds to</text>
<text class="b" transform="translate(1031.4 1234)">binds to</text>
<text class="b" transform="translate(952.9 1286) rotate(-22)">binds to</text>
<text class="b" transform="translate(1005.8 1285) rotate(-35)">binds to</text>
<text class="b" transform="translate(1058.8 1286.7) rotate(-65)">binds to</text>
<text class="b" transform="translate(1164.7 1279.3) rotate(30)">binds to</text>
<text class="b" transform="translate(1211 1303.3) rotate(30)">binds to</text>
<text class="b" transform="translate(1111.7 1292.7) rotate(63)">binds to</text>
<text class="b" transform="translate(1100.7 1340.7) rotate(83)">binds to</text>
<text class="b" transform="translate(1163.4 1335) rotate(55)">binds to</text>
<text class="b" transform="translate(1214.5 1360) rotate(42)">binds to</text>
<text class="b" transform="translate(1152.8 1387.7) rotate(63)">binds to</text>
<text class="b" transform="translate(1099.8 1393.3) rotate(85)">binds to</text>
<text class="b" transform="translate(991 1341.7) rotate(-50)">binds to</text>
<text class="b" transform="translate(1045.5 1330) rotate(-68)">binds to</text>
<text class="b" transform="translate(985 1403.3) rotate(-60)">binds to</text>
<text class="b" transform="translate(1046 1395) rotate(-77)">binds to</text>
<text class="b" transform="translate(1072.5 1433.3) rotate(-87)">binds to</text>
</g>
<g id="hnodes">
<g id="h1"><ellipse class="gn" cx="1077.3" cy="920.3" rx="25.3" ry="26.5"/><text class="ht" x="1077.3" y="924">BAG7</text></g>
<g id="h2"><ellipse class="gn" cx="974" cy="950.7" rx="25.3" ry="26.5"/><text class="ht" x="974" y="954.4">ATG7</text></g>
<g id="h3"><ellipse class="gn" cx="1075.5" cy="1026" rx="25.3" ry="26.5"/><text class="ht" x="1075.5" y="1029.7">AP19</text></g>
<g id="h4"><ellipse class="gn" cx="872" cy="1026.3" rx="25.3" ry="26.5"/><text class="ht" x="872" y="1030">AP1M2/HAP13</text></g>
<g id="h5"><ellipse class="gn" cx="1181.4" cy="1000.3" rx="25.3" ry="26.5"/><text class="ht" x="1181.4" y="998.7">ATG1/ULK1<tspan x="1181.4" dy="10.7">KINASE</tspan></text></g>
<g id="h6"><ellipse class="gn" cx="1281.6" cy="1062.3" rx="25.3" ry="26.5"/><text class="ht" x="1281.6" y="1066">EDE1</text></g>
<g id="h7"><ellipse class="gn" cx="771.5" cy="1134.7" rx="25.3" ry="26.5"/><text class="ht" x="771.5" y="1138.4">ATG3</text></g>
<g id="h8"><ellipse class="gn" cx="872" cy="1131" rx="25.3" ry="26.5"/><text class="ht" x="872" y="1134.7">MON1-CCZ1 GEF</text></g>
<g id="h9"><ellipse class="gn" cx="974" cy="1133" rx="25.3" ry="26.5"/><text class="ht" x="974" y="1136.7">SHP1</text></g>
<g id="h10"><ellipse class="gn" cx="1079.5" cy="1134" rx="25.3" ry="26.5"/><text class="ht" x="1079.5" y="1137.7">ATG32</text></g>
<g id="h11"><ellipse class="gn" cx="1179.3" cy="1121.3" rx="25.3" ry="26.5"/><text class="ht" x="1179.3" y="1125">PEX3</text></g>
<g id="h12"><ellipse class="gn" cx="1292.2" cy="1169.7" rx="25.3" ry="26.5"/><text class="ht" x="1292.2" y="1173.4">SWIB3</text></g>
<g id="h13"><ellipse class="gn" cx="1394.2" cy="1172.3" rx="25.3" ry="26.5"/><text class="ht" x="1394.2" y="1176">LIR MOTIF</text></g>
<g id="h14"><ellipse class="gn" cx="1180" cy="1228" rx="25.3" ry="26.5"/><text class="ht" x="1180" y="1231.7">VDAC3</text></g>
<g id="h15"><ellipse class="gn" cx="769.3" cy="1241" rx="25.3" ry="26.5"/><text class="ht" x="769.3" y="1244.7">ATG10</text></g>
<g id="h16"><ellipse class="gn" cx="871.7" cy="1241.7" rx="25.3" ry="26.5"/><text class="ht" x="871.7" y="1245.4">FIGURE 1: ATG32</text></g>
<g id="h17"><ellipse class="gn" cx="974" cy="1241" rx="25.3" ry="26.5"/><text class="ht" x="974" y="1244.7">OLE1</text></g>
<g id="h18"><ellipse class="gn" cx="1075.5" cy="1241" rx="25.7" ry="26.5"/><text class="ht" x="1075.5" y="1244.7">ATG8</text></g>
<g id="h19"><ellipse class="gn" cx="1336.8" cy="1278" rx="25.3" ry="26.5"/><text class="ht" x="1336.8" y="1281.7">ATG19</text></g>
<g id="h20"><ellipse class="gn" cx="1233.5" cy="1334.3" rx="25.3" ry="26.5"/><text class="ht" x="1233.5" y="1338">PUX13</text></g>
<g id="h21"><ellipse class="gn" cx="1338.6" cy="1387.7" rx="25.3" ry="26.5"/><text class="ht" x="1338.6" y="1391.4">PUX7</text></g>
<g id="h22"><ellipse class="gn" cx="816" cy="1347" rx="25.3" ry="26.5"/><text class="ht" x="816" y="1350.7">ATG43</text></g>
<g id="h23"><ellipse class="gn" cx="924.6" cy="1346" rx="25.3" ry="26.5"/><text class="ht" x="924.6" y="1349.7">RPN10</text></g>
<g id="h24"><ellipse class="gn" cx="1026.6" cy="1348.3" rx="25.3" ry="26.5"/><text class="ht" x="1026.6" y="1352">AtATG11</text></g>
<g id="h25"><ellipse class="gn" cx="1132" cy="1348.3" rx="25.3" ry="26.5"/><text class="ht" x="1132" y="1352">SWEET1</text></g>
<g id="h26"><ellipse class="gn" cx="892.8" cy="1453.7" rx="25.3" ry="26.5"/><text class="ht" x="892.8" y="1446.7">ATG19<tspan x="892.8" dy="10.7">C-TERMINAL</tspan><tspan x="892.8" dy="10.7">DOMAIN</tspan></text></g>
<g id="h27"><ellipse class="gn" cx="994.3" cy="1459" rx="25.3" ry="26.5"/><text class="ht" x="994.3" y="1462.7">MON1-CCZ1</text></g>
<g id="h28"><ellipse class="gn" cx="1107.8" cy="1455" rx="25.3" ry="26.5"/><text class="ht" x="1107.8" y="1458.7">ATG7CTD</text></g>
<g id="h29"><ellipse class="gn" cx="1232.6" cy="1443.3" rx="25.3" ry="26.5"/><text class="ht" x="1232.6" y="1447">EPR1</text></g>
<g id="h30"><ellipse class="gn" cx="1334.6" cy="1494.3" rx="25.3" ry="26.5"/><text class="ht" x="1334.6" y="1498">KCO5/TPK5</text></g>
<g id="h31"><ellipse class="gn" cx="1002.7" cy="1562.3" rx="25.3" ry="26.5"/><text class="ht" x="1002.7" y="1566">VDAC2</text></g>
<g id="h32"><ellipse class="gn" cx="1106.4" cy="1560.7" rx="25.3" ry="26.5"/><text class="ht" x="1106.4" y="1564.4">OPT7</text></g>
<g id="h33"><ellipse class="gn" cx="1212.8" cy="1549.3" rx="25.3" ry="26.5"/><text class="ht" x="1212.8" y="1553">ATPC2</text></g>
<g id="h34"><ellipse class="gn" cx="878.7" cy="1579.3" rx="25.3" ry="26.5"/><text class="ht" x="878.7" y="1583">EDE1:</text></g>
<g id="h35"><ellipse class="gn" cx="1052.6" cy="1640" rx="25.3" ry="26.5"/><text class="ht" x="1052.6" y="1638.4">ATG1/ULK1<tspan x="1052.6" dy="10.7">KINASE</tspan></text></g>
</g>
</svg>
